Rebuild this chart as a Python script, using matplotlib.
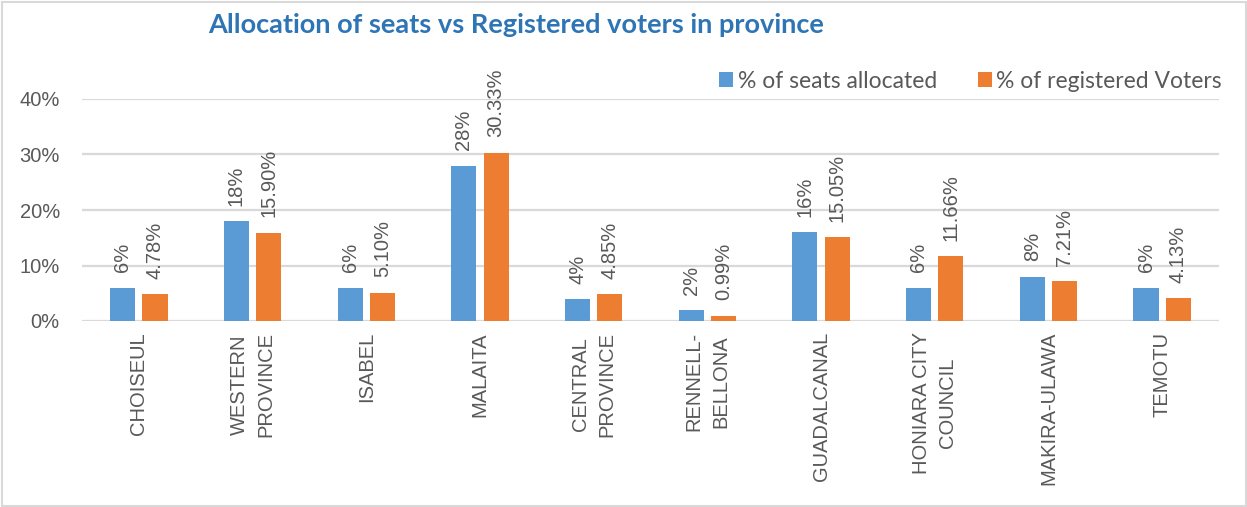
import matplotlib
matplotlib.use("Agg")
import matplotlib.pyplot as plt
import numpy as np
from matplotlib.patches import Rectangle

categories = ["CHOISEUL", "WESTERN\nPROVINCE", "ISABEL", "MALAITA", "CENTRAL\nPROVINCE",
              "RENNELL-\nBELLONA", "GUADALCANAL", "HONIARA CITY\nCOUNCIL", "MAKIRA-ULAWA", "TEMOTU"]
seats = [6, 18, 6, 28, 4, 2, 16, 6, 8, 6]
voters = [4.78, 15.90, 5.10, 30.33, 4.85, 0.99, 15.05, 11.66, 7.21, 4.13]
seat_labels = ["6%", "18%", "6%", "28%", "4%", "2%", "16%", "6%", "8%", "6%"]
voter_labels = ["4.78%", "15.90%", "5.10%", "30.33%", "4.85%", "0.99%", "15.05%", "11.66%", "7.21%", "4.13%"]
yticks = [0, 10, 20, 30, 40]
ytick_labels = ["0%", "10%", "20%", "30%", "40%"]
series_names = ["% of seats allocated", "% of registered Voters"]

BLUE = "#5B9BD5"
ORANGE = "#ED7D31"
GRAY = "#595959"
GRID = "#D9D9D9"

W, H = 1247, 507
fig = plt.figure(figsize=(W / 100, H / 100), dpi=100)
ax = fig.add_axes([82 / W, 1 - 321 / H, (1219 - 82) / W, (321 - 99) / H])

x = np.arange(len(categories))
bw = 0.22
off = 0.142
b1 = ax.bar(x - off, seats, bw, color=BLUE, label=series_names[0], zorder=3)
b2 = ax.bar(x + off, voters, bw, color=ORANGE, label=series_names[1], zorder=3)

for rects, labs in ((b1, seat_labels), (b2, voter_labels)):
    for r, lab in zip(rects, labs):
        ax.annotate(lab, (r.get_x() + r.get_width() / 2, r.get_height()),
                    xytext=(0, 11), textcoords="offset points",
                    rotation=90, ha="center", va="bottom",
                    fontsize=14.5, color=GRAY, family="Liberation Sans",
                    annotation_clip=False)

ax.set_xlim(-0.5, len(categories) - 0.5)
ax.set_ylim(0, 40)
ax.set_yticks(yticks)
ax.set_yticklabels(ytick_labels, fontsize=14.5, color=GRAY, family="Liberation Sans")
ax.yaxis.grid(True, color=GRID, linewidth=1.6, zorder=0)
ax.set_axisbelow(True)
ax.tick_params(axis="y", length=0, pad=16)
ax.set_xticks(x)
ax.set_xticklabels(categories, rotation=90, fontsize=14.5, color=GRAY,
                   family="Liberation Sans", ha="center", va="top",
                   multialignment="center", linespacing=1.5)
ax.tick_params(axis="x", length=0, pad=8)
for s in ax.spines.values():
    s.set_visible(False)

fig.text(516 / W, 1 - 25 / H, "Allocation of seats vs Registered voters in province",
         ha="center", va="center", fontsize=19.5, fontweight="bold",
         color="#2E75B6", family="Lato")

leg = fig.legend(handles=[b1, b2], labels=series_names, loc="center right",
                 bbox_to_anchor=(1222 / W, 1 - 81 / H), ncol=2, frameon=False,
                 prop={"family": "Lato", "size": 16.5}, labelcolor=GRAY,
                 handlelength=0.6, handleheight=0.6, handletextpad=0.2,
                 columnspacing=1.8, borderaxespad=0, borderpad=0)

fig.patches.append(Rectangle((1.5 / W, 1.5 / H), (W - 3) / W, (H - 3) / H,
                             transform=fig.transFigure, fill=False,
                             edgecolor=GRID, linewidth=1.5))

fig.savefig("out.png", dpi=100)
